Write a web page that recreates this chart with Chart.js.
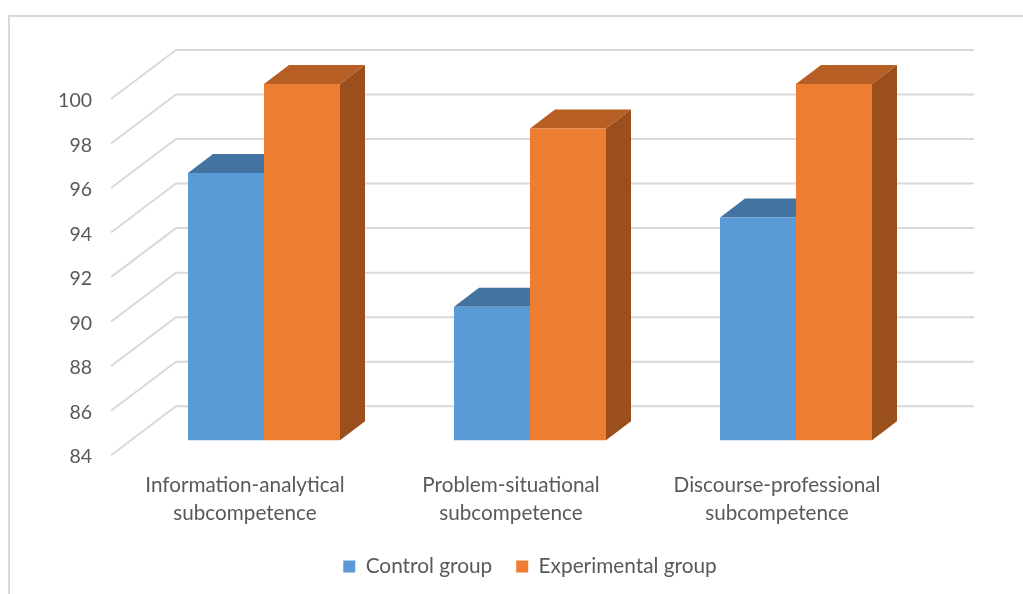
<!DOCTYPE html>
<html>
<head>
<meta charset="utf-8">
<script src="https://cdn.jsdelivr.net/npm/chart.js@4.4.0/dist/chart.umd.min.js"></script>
<style>
  html, body { margin: 0; padding: 0; background: #ffffff; }
  canvas { display: block; }
</style>
</head>
<body>
<canvas id="chart" width="1023" height="594"></canvas>
<script>
// Categories and series
const categories = [
  ['Information-analytical', 'subcompetence'],
  ['Problem-situational', 'subcompetence'],
  ['Discourse-professional', 'subcompetence']
];
const controlGroup = [96, 90, 94];
const experimentalGroup = [100, 98, 100];
const seriesNames = ['Control group', 'Experimental group'];

// Value axis
const yMin = 84;
const yMax = 100;
const yStep = 2;

// Colours: front face, top face, side face
const frontColors = ['#5b9bd5', '#ed7d31'];
const topColors = ['#4373a1', '#b65e23'];
const sideColors = ['#3b6690', '#9a4f1d'];
const gridColor = '#d9d9d9';
const textColor = '#595959';

// Oblique projection offsets, relative to the plane of the bar fronts
const BAR_DEPTH = { dx: 25, dy: -19 };
const BACK_WALL = { dx: 45, dy: -34 };
const FRONT_EDGE = { dx: -20, dy: 15 };

const pseudo3d = {
  id: 'pseudo3d',
  beforeDraw(chart) {
    const ctx = chart.ctx;
    ctx.save();
    ctx.strokeStyle = gridColor;
    ctx.lineWidth = 2;
    ctx.strokeRect(9, 16, 1100, 700);
    ctx.restore();
  },
  beforeDatasetsDraw(chart) {
    const { ctx, chartArea: { left, right }, scales: { y } } = chart;
    ctx.save();
    // side wall diagonals + back wall gridlines
    ctx.strokeStyle = gridColor;
    ctx.lineWidth = 2;
    y.ticks.forEach(t => {
      const py = y.getPixelForValue(t.value);
      ctx.beginPath();
      ctx.moveTo(left + FRONT_EDGE.dx, py + FRONT_EDGE.dy);
      ctx.lineTo(left + BACK_WALL.dx, py + BACK_WALL.dy);
      ctx.lineTo(right + BACK_WALL.dx, py + BACK_WALL.dy);
      ctx.stroke();
    });
    // bar tops and right sides (fronts are drawn by the bar controller afterwards)
    const floor = y.getPixelForValue(yMin);
    chart.data.datasets.forEach((ds, i) => {
      const meta = chart.getDatasetMeta(i);
      meta.data.forEach(bar => {
        const { x, y: top, base, width } = bar.getProps(['x', 'y', 'base', 'width'], true);
        const bottom = Math.min(base, floor);
        const x0 = x - width / 2;
        const x1 = x + width / 2;
        ctx.fillStyle = sideColors[i];
        ctx.beginPath();
        ctx.moveTo(x1, top);
        ctx.lineTo(x1 + BAR_DEPTH.dx, top + BAR_DEPTH.dy);
        ctx.lineTo(x1 + BAR_DEPTH.dx, bottom + BAR_DEPTH.dy);
        ctx.lineTo(x1, bottom);
        ctx.closePath();
        ctx.fill();
        ctx.fillStyle = topColors[i];
        ctx.beginPath();
        ctx.moveTo(x0, top);
        ctx.lineTo(x1, top);
        ctx.lineTo(x1 + BAR_DEPTH.dx, top + BAR_DEPTH.dy);
        ctx.lineTo(x0 + BAR_DEPTH.dx, top + BAR_DEPTH.dy);
        ctx.closePath();
        ctx.fill();
      });
    });
    ctx.restore();
  }
};

new Chart(document.getElementById('chart'), {
  type: 'bar',
  data: {
    labels: categories,
    datasets: [
      { label: seriesNames[0], data: controlGroup, backgroundColor: frontColors[0] },
      { label: seriesNames[1], data: experimentalGroup, backgroundColor: frontColors[1] }
    ]
  },
  options: {
    responsive: false,
    animation: false,
    devicePixelRatio: 1,
    layout: { padding: { left: 40, right: 94, top: 84, bottom: 7 } },
    datasets: {
      bar: { barPercentage: 1, categoryPercentage: 0.5714, borderWidth: 0 }
    },
    scales: {
      x: {
        grid: { display: false, drawTicks: false },
        border: { display: false },
        ticks: {
          color: textColor,
          font: { family: 'Lato', size: 20.7, lineHeight: 1.35 },
          padding: 31,
          labelOffset: -19,
          maxRotation: 0,
          autoSkip: false
        },
        afterFit(scale) { scale.height = 92; }
      },
      y: {
        min: yMin,
        max: yMax,
        grid: { display: false, drawTicks: false },
        border: { display: false },
        ticks: {
          stepSize: yStep,
          color: textColor,
          font: { family: 'Lato', size: 19.5 },
          padding: 39,
          labelOffset: 17
        },
        afterFit(scale) { scale.width = 91; }
      }
    },
    plugins: {
      legend: {
        position: 'bottom',
        fullSize: false,
        labels: {
          color: textColor,
          font: { family: 'Lato', size: 20.8 },
          boxWidth: 12,
          boxHeight: 12,
          padding: 24
        }
      },
      tooltip: { enabled: false }
    }
  },
  plugins: [pseudo3d]
});
</script>
</body>
</html>
